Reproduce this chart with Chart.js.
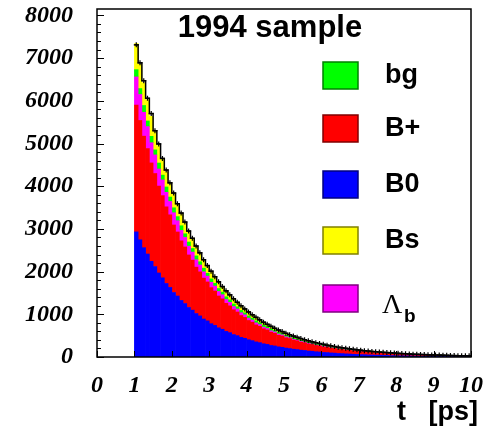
<!DOCTYPE html>
<html lang="en">
<head>
<meta charset="UTF-8">
<title>1994 sample</title>
<script src="https://cdn.jsdelivr.net/npm/chart.js@4"></script>
<style>
  html, body { margin: 0; padding: 0; background: #fff; }
</style>
</head>
<body>
<canvas id="c" width="484" height="429"></canvas>
<script>
// bin centres, t in ps (0.1 ps bins from 1 to 10)
var tBins = [1.05,1.15,1.25,1.35,1.45,1.55,1.65,1.75,1.85,1.95,
  2.05,2.15,2.25,2.35,2.45,2.55,2.65,2.75,2.85,2.95,
  3.05,3.15,3.25,3.35,3.45,3.55,3.65,3.75,3.85,3.95,
  4.05,4.15,4.25,4.35,4.45,4.55,4.65,4.75,4.85,4.95,
  5.05,5.15,5.25,5.35,5.45,5.55,5.65,5.75,5.85,5.95,
  6.05,6.15,6.25,6.35,6.45,6.55,6.65,6.75,6.85,6.95,
  7.05,7.15,7.25,7.35,7.45,7.55,7.65,7.75,7.85,7.95,
  8.05,8.15,8.25,8.35,8.45,8.55,8.65,8.75,8.85,8.95,
  9.05,9.15,9.25,9.35,9.45,9.55,9.65,9.75,9.85,9.95];

var b0 = [2930,2745,2560,2412,2240,2118,1968,1855,1722,1630,
  1510,1428,1325,1252,1160,1098,1018,962,890,846,
  780,741,684,650,600,570,526,500,460,438,
  404,384,354,336,310,296,271,259,238,227,
  209,199,183,175,160,154,140,135,123,118,
  107,104,95,91,83,80,73,70,64,61,
  56,54,49,47,43,42,37,37,32,32,
  28,28,25,25,22,22,19,19,16,17,
  14,15,12,13,11,12,9,11,8,9];

var bPlus = [2970,2795,2612,2470,2305,2180,2035,1925,1795,1700,
  1582,1500,1396,1325,1230,1170,1086,1032,958,912,
  845,805,745,712,658,628,580,554,512,490,
  452,432,398,382,351,337,310,298,272,264,
  240,233,212,205,187,181,165,160,145,142,
  128,126,112,110,100,97,88,86,77,76,
  68,68,60,60,52,53,46,47,40,42,
  36,36,31,32,28,28,25,25,22,22,
  19,20,17,18,15,16,13,14,11,12];

var lambdaB = [660,607,559,514,473,435,400,368,339,312,
  287,264,243,223,205,189,174,160,147,135,
  125,115,106,97,89,82,76,70,64,59,
  54,50,46,42,39,36,33,30,28,26,
  24,22,20,18,17,16,14,13,12,11,
  10,9,9,8,7,7,6,6,5,5,
  4,4,4,3,3,3,3,2,2,2,
  2,2,2,1,1,1,1,1,1,1,
  1,1,1,1,0,0,0,0,0,0];

var bg = [170,140,160,132,150,118,140,112,126,104,
  116,96,110,86,98,84,90,77,86,68,
  80,64,70,60,64,57,60,51,55,47,
  52,42,49,39,45,38,41,35,37,33,
  35,29,33,28,29,27,27,24,25,22,
  24,20,21,19,20,17,19,16,17,15,
  16,14,14,13,13,12,13,11,11,10,
  11,9,10,8,9,8,8,7,8,7,
  7,6,6,5,6,5,5,5,5,4];

var bs = [610,571,534,499,467,437,409,383,358,335,
  313,293,274,256,240,224,210,196,184,172,
  161,150,141,132,123,115,108,101,94,88,
  83,77,72,68,63,59,55,52,48,45,
  42,40,37,35,32,30,28,27,25,23,
  22,20,19,18,17,16,15,14,13,12,
  11,10,10,9,9,8,8,7,7,6,
  6,5,5,5,4,4,4,4,3,3,
  3,3,3,2,2,2,2,2,2,2];

// measured data (black histogram with error bars)
var dataCounts = [7310,6890,6470,6060,5700,5300,4990,4650,4380,4080,
  3840,3590,3370,3160,2950,2780,2600,2440,2280,2140,
  2010,1880,1760,1650,1550,1455,1365,1280,1200,1125,
  1055,990,930,870,815,765,718,672,632,595,
  556,522,490,460,432,405,380,356,336,316,
  296,278,261,246,230,217,204,191,180,168,
  159,149,140,131,124,117,110,103,97,91,
  86,80,76,71,67,63,60,56,52,49,
  47,44,42,39,37,34,32,30,29,27];

var binWidth = 0.1;
var yTickLabels = [0, 1000, 2000, 3000, 4000, 5000, 6000, 7000, 8000];
var xTickLabels = [0, 1, 2, 3, 4, 5, 6, 7, 8, 9, 10];

var legendLabels = ['bg', 'B+', 'B0', 'Bs', 'Λb'];
var legendColors = ['#00ff00', '#ff0000', '#0000ff', '#ffff00', '#ff00ff'];
var legendEdges = ['#008000', '#800000', '#000080', '#808000', '#800080'];

function toPoints(arr) {
  return arr.map(function(v, i) { return {x: tBins[i], y: v}; });
}

// step line through lower bin edges, closed at the last upper edge
var dataStep = dataCounts.map(function(v, i) { return {x: tBins[i] - binWidth / 2, y: v}; });
dataStep.push({x: tBins[tBins.length - 1] + binWidth / 2, y: dataCounts[dataCounts.length - 1]});

function barSet(label, arr, color) {
  return {
    type: 'bar', label: label, data: toPoints(arr),
    backgroundColor: color, borderWidth: 0,
    barPercentage: 1, categoryPercentage: 1, stack: 'mc'
  };
}

var decor = {
  id: 'decor',
  afterDraw: function(chart) {
    var ctx = chart.ctx, a = chart.chartArea;
    var x = chart.scales.x, y = chart.scales.y;
    ctx.save();
    ctx.strokeStyle = '#000';
    ctx.lineWidth = 1;
    ctx.beginPath();
    for (var v = 0; v <= 8000; v += 200) {
      var py = Math.round(y.getPixelForValue(v)) + 0.5;
      var len = v % 1000 === 0 ? 7 : 4;
      ctx.moveTo(a.left, py); ctx.lineTo(a.left + len, py);
    }
    xTickLabels.forEach(function(t) {
      var px = Math.round(x.getPixelForValue(t)) + 0.5;
      ctx.moveTo(px, a.bottom); ctx.lineTo(px, a.bottom - 6);
    });
    ctx.stroke();
    ctx.lineWidth = 1.5;
    ctx.strokeRect(a.left, a.top, a.right - a.left, a.bottom - a.top);

    ctx.fillStyle = '#000';
    ctx.textBaseline = 'middle';
    ctx.textAlign = 'center';
    ctx.font = 'bold 31px "Liberation Sans", Arial, sans-serif';
    ctx.fillText('1994 sample', 270, 28);

    // legend
    var tops = [62, 115, 171, 227, 285];
    legendLabels.forEach(function(lab, i) {
      ctx.fillStyle = legendColors[i];
      ctx.fillRect(323, tops[i], 35, 27);
      ctx.strokeStyle = legendEdges[i];
      ctx.lineWidth = 1.5;
      ctx.strokeRect(323, tops[i], 35, 27);
      ctx.fillStyle = '#000';
      ctx.textAlign = 'left';
      if (lab === 'Λb') {
        ctx.textBaseline = 'alphabetic';
        ctx.font = '28px "Liberation Serif", serif';
        ctx.fillText('Λ', 382, tops[i] + 28);
        ctx.font = 'bold 19px "Liberation Sans", Arial, sans-serif';
        ctx.fillText('b', 404, tops[i] + 37);
        ctx.textBaseline = 'middle';
      } else {
        ctx.font = 'bold 27px "Liberation Sans", Arial, sans-serif';
        ctx.fillText(lab, 385, tops[i] + 14);
      }
    });

    ctx.textAlign = 'right';
    ctx.font = 'bold 27px "Liberation Sans", Arial, sans-serif';
    ctx.fillText('t   [ps]', 478, 413);
    ctx.restore();
  }
};

var tickFont = {family: '"Liberation Serif", "Times New Roman", serif', style: 'italic', weight: 'bold', size: 24};

new Chart(document.getElementById('c'), {
  type: 'bar',
  data: {
    datasets: [
      barSet('B0', b0, '#0000ff'),
      barSet('B+', bPlus, '#ff0000'),
      barSet('Λb', lambdaB, '#ff00ff'),
      barSet('bg', bg, '#00ff00'),
      barSet('Bs', bs, '#ffff00'),
      {
        type: 'line', label: 'data', data: dataStep, stepped: true,
        borderColor: '#000', borderWidth: 1.5, pointRadius: 0, fill: false,
        stack: 'dataLine', order: -2
      },
      {
        type: 'line', label: 'data points', data: toPoints(dataCounts), showLine: false,
        pointStyle: 'cross', pointRadius: 2.5, pointBorderColor: '#000', pointBorderWidth: 1.2,
        stack: 'dataPts', order: -1
      }
    ]
  },
  options: {
    responsive: false,
    devicePixelRatio: 1,
    animation: false,
    layout: {padding: {top: 9, right: 13, bottom: 0, left: 0}},
    plugins: {legend: {display: false}, tooltip: {enabled: false}},
    scales: {
      x: {
        type: 'linear', min: 0, max: 10, stacked: true, offset: false,
        grid: {display: false, drawTicks: false}, border: {display: false},
        ticks: {padding: 14, color: '#000', font: tickFont, maxRotation: 0, autoSkip: false,
          callback: function(v) { return String(v); }},
        afterBuildTicks: function(s) { s.ticks = xTickLabels.map(function(v) { return {value: v}; }); },
        afterFit: function(s) { s.height = 72; s.paddingLeft = 0; s.paddingRight = 0; }
      },
      y: {
        type: 'linear', min: 0, max: 8150, stacked: true,
        grid: {display: false, drawTicks: false}, border: {display: false},
        ticks: {padding: 24, color: '#000', font: tickFont, autoSkip: false,
          callback: function(v) { return String(v); }},
        afterBuildTicks: function(s) { s.ticks = yTickLabels.map(function(v) { return {value: v}; }); },
        afterFit: function(s) { s.width = 97; s.paddingTop = 0; s.paddingBottom = 0; }
      }
    }
  },
  plugins: [decor]
});
</script>
</body>
</html>
